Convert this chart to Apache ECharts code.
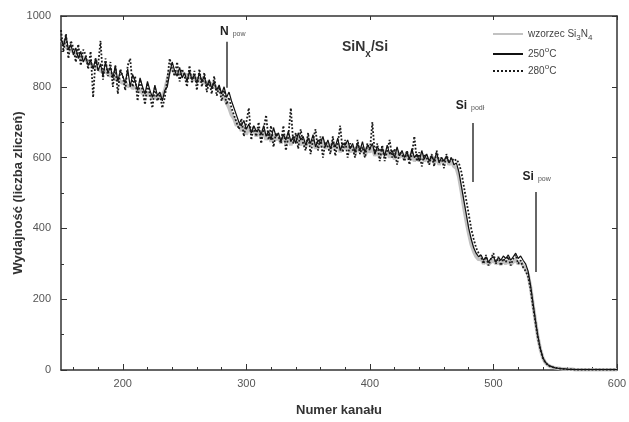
<!DOCTYPE html>
<html><head><meta charset="utf-8">
<script src="https://cdn.jsdelivr.net/npm/echarts@6/dist/echarts.min.js"></script>
<style>html,body{margin:0;padding:0;background:#fff}#c{width:629px;height:422px}</style>
</head><body><div id="c"></div>
<script>
// channels: 150..600 every 2 channels
const CH_START = 150, CH_STEP = 2;
const xTickLabels = [200, 300, 400, 500, 600];
const yTickLabels = [0, 200, 400, 600, 800, 1000];

const wzorzec = [
 925,930,910,915,900,905,890,895,880,885,
 875,870,865,860,855,850,845,840,845,835,
 830,835,820,825,815,810,815,800,805,795,
 800,790,795,780,785,775,780,770,775,765,
 770,775,790,820,845,850,840,845,835,840,
 830,835,825,830,820,825,815,820,810,815,
 805,810,800,795,790,780,770,755,740,720,
 710,690,700,675,690,665,685,670,680,660,
 675,655,680,650,670,645,665,650,660,640,
 665,640,660,635,655,645,660,635,650,630,
 655,635,650,625,645,630,650,625,640,620,
 645,625,640,615,635,625,640,615,630,610,
 635,615,630,605,625,615,630,605,620,600,
 625,605,620,600,615,595,620,600,610,595,
 615,595,610,590,605,590,610,590,600,585,
 605,585,600,580,595,585,600,580,590,575,
 570,545,505,460,420,385,355,335,320,312,
 315,300,310,298,305,310,300,305,298,308,
 300,310,298,305,312,300,305,295,285,270,
 235,185,138,92,58,34,21,14,10,8,
 6,5,4,3,3,2,2,2,1,1,
 1,1,1,1,1,1,1,1,1,1,1,1,1,1,1,1
];
const t250 = [
 935,915,945,905,920,890,910,880,900,870,
 885,860,875,850,880,845,865,830,870,840,
 855,825,860,815,845,830,810,850,800,835,
 815,790,825,800,780,815,790,770,805,775,
 785,760,790,800,840,870,845,830,855,825,
 840,815,845,820,835,810,840,815,830,800,
 820,795,815,790,805,780,800,770,785,760,
 740,720,700,690,705,680,695,670,690,675,
 680,665,690,660,675,650,685,660,670,645,
 665,650,675,645,660,640,670,650,660,635,
 655,640,665,630,650,640,660,630,650,625,
 645,630,655,620,640,635,650,625,640,615,
 640,620,645,615,635,625,640,610,630,620,
 625,605,635,610,620,600,630,605,620,600,
 615,595,625,600,610,590,620,595,610,590,
 605,590,615,585,600,590,605,585,600,580,
 585,560,520,480,440,400,370,345,330,320,
 325,310,320,305,315,320,305,318,310,322,
 315,325,310,320,330,315,322,310,300,280,
 240,190,140,95,60,35,22,15,11,8,
 6,5,4,3,3,2,2,2,1,1,
 1,1,1,1,1,1,1,1,1,1,1,1,1,1,1,1
];
const t280 = [
 960,900,950,880,930,910,870,920,860,905,
 890,850,900,770,880,860,930,820,880,830,
 870,800,860,780,850,830,790,860,880,800,
 830,760,820,790,750,810,775,740,800,760,
 780,740,770,820,880,850,830,870,815,850,
 830,800,860,810,845,790,850,800,840,785,
 815,780,830,775,800,760,790,750,770,740,
 720,700,680,710,660,700,740,650,690,660,
 700,640,680,720,650,690,630,670,660,640,
 690,620,660,740,640,670,625,680,640,620,
 670,610,650,680,620,660,600,645,630,610,
 660,605,640,690,615,650,600,640,625,600,
 650,610,630,600,640,620,700,610,640,590,
 635,590,620,650,600,625,580,615,610,590,
 620,580,610,660,590,615,575,610,600,580,
 610,575,620,590,600,570,610,585,600,590,
 595,585,560,520,480,440,400,370,345,330,
 320,300,325,295,315,330,300,320,295,315,
 305,320,295,315,325,300,310,290,280,265,
 230,180,135,90,58,34,21,14,10,8,
 6,5,4,3,3,2,2,2,1,1,
 1,1,1,1,1,1,1,1,1,1,1,1,1,1,1,1
];

// annotation markers: channel, top value, bottom value, label position
const markers = [
  {ch: 284.5, top: 927, bottom: 797, lx: 289, ly: 962, main: 'N', sub: 'pow'},
  {ch: 483.5, top: 698, bottom: 531, lx: 481, ly: 752, main: 'Si', sub: 'podł'},
  {ch: 534.5, top: 503, bottom: 277, lx: 535, ly: 552, main: 'Si', sub: 'pow'}
];

function pairs(arr){ return arr.map((v,i)=>[CH_START + i*CH_STEP, v]); }

const chart = echarts.init(document.getElementById('c'), null, {renderer:'canvas'});
const FONT = 'Liberation Sans, Arial, sans-serif';
const axisCol = '#333';
const minorX = [];
for (let v = 160; v <= 600; v += 20) minorX.push(v);

const richSub = {
  b: {fontFamily: FONT, fontSize: 12, fontWeight: 'bold', color: '#222', lineHeight: 16, verticalAlign: 'bottom'},
  s: {fontFamily: FONT, fontSize: 7, color: '#555', lineHeight: 16, verticalAlign: 'bottom', padding: [0,0,0,4]}
};

chart.setOption({
  animation: false,
  backgroundColor: '#fff',
  title: {
    text: 'SiN{s|x}/Si', left: 337, top: 30,
    textStyle: {fontFamily: FONT, fontSize: 14, fontWeight: 'bold', color: '#333',
      rich: {s: {fontFamily: FONT, fontSize: 10, fontWeight: 'bold', color: '#333', verticalAlign: 'bottom', lineHeight: 24}}}
  },
  legend: {
    orient: 'vertical', left: 487, top: 24, itemWidth: 30, itemHeight: 10, itemGap: 4,
    data: ['wzorzec Si3N4', '250C', '280C'],
    itemStyle: {opacity: 0},
    textStyle: {fontFamily: FONT, fontSize: 10, color: '#444',
      rich: {
        s: {fontFamily: FONT, fontSize: 8, color: '#444', verticalAlign: 'bottom', lineHeight: 16},
        p: {fontFamily: FONT, fontSize: 8, color: '#444', verticalAlign: 'top', lineHeight: 16}
      }},
    formatter: function(n){
      if (n === 'wzorzec Si3N4') return 'wzorzec Si{s|3}N{s|4}';
      if (n === '250C') return '250{p|o}C';
      return '280{p|o}C';
    }
  },
  grid: {left: 61, right: 12, top: 16, bottom: 52, containLabel: false, outerBoundsMode: 'none'},
  xAxis: [
    {type: 'value', min: 150, max: 600, position: 'bottom',
     name: 'Numer kanału', nameLocation: 'middle', nameGap: 34, nameMoveOverlap: false,
     nameTextStyle: {fontFamily: FONT, fontSize: 13, fontWeight: 'bold', color: '#333'},
     axisLine: {show: true, lineStyle: {color: axisCol, width: 1.5}},
     axisTick: {show: true, inside: true, length: 6, customValues: xTickLabels, lineStyle: {color: axisCol}},
     axisLabel: {customValues: xTickLabels, fontFamily: FONT, fontSize: 11, color: '#555', margin: 8},
     splitLine: {show: false}},
    {type: 'value', min: 150, max: 600, position: 'bottom',
     axisLine: {show: false},
     axisTick: {show: true, inside: true, length: 3, customValues: minorX, lineStyle: {color: axisCol}},
     axisLabel: {show: false, customValues: minorX}, splitLine: {show: false}},
    {type: 'value', min: 150, max: 600, position: 'top',
     axisLine: {show: true, lineStyle: {color: axisCol, width: 1.5}},
     axisTick: {show: true, inside: true, length: 4, customValues: xTickLabels, lineStyle: {color: axisCol}},
     axisLabel: {show: false, customValues: xTickLabels}, splitLine: {show: false}}
  ],
  yAxis: [
    {type: 'value', min: 0, max: 1000, interval: 200, position: 'left',
     name: 'Wydajność (liczba zliczeń)', nameLocation: 'middle', nameGap: 36, nameMoveOverlap: false,
     nameTextStyle: {fontFamily: FONT, fontSize: 13, fontWeight: 'bold', color: '#333'},
     axisLine: {show: true, lineStyle: {color: axisCol, width: 1.5}},
     axisTick: {show: true, inside: true, length: 6, lineStyle: {color: axisCol}},
     minorTick: {show: true, splitNumber: 2, length: 3, lineStyle: {color: axisCol}},
     axisLabel: {fontFamily: FONT, fontSize: 11, color: '#555', margin: 10,
       customValues: yTickLabels, formatter: v => String(v)},
     splitLine: {show: false}},
    {type: 'value', min: 0, max: 1000, interval: 200, position: 'right',
     axisLine: {show: true, lineStyle: {color: axisCol, width: 1.5}},
     axisTick: {show: true, inside: true, length: 5, lineStyle: {color: axisCol}},
     axisLabel: {show: false}, splitLine: {show: false}}
  ],
  series: [
    {name: 'wzorzec Si3N4', type: 'line', data: pairs(wzorzec), showSymbol: false, symbol: 'none',
     lineStyle: {color: '#c2c2c2', width: 3.5}, itemStyle: {color: '#c2c2c2'}, z: 1},
    {name: '250C', type: 'line', data: pairs(t250), showSymbol: false, symbol: 'none',
     lineStyle: {color: '#111', width: 1.2}, itemStyle: {color: '#111'}, z: 2,
     markLine: {
       silent: true, symbol: ['none','none'], animation: false,
       label: {show: false},
       lineStyle: {color: '#333', width: 1.5, type: 'solid'},
       data: markers.map(m => [{coord: [m.ch, m.top]}, {coord: [m.ch, m.bottom]}])
     },
     markPoint: {
       silent: true, symbol: 'circle', symbolSize: 1, itemStyle: {color: 'rgba(0,0,0,0)'},
       data: markers.map(m => ({coord: [m.lx, m.ly],
         label: {show: true, position: 'inside', formatter: '{b|' + m.main + '}{s|' + m.sub + '}', rich: richSub}}))
     }},
    {name: '280C', type: 'line', data: pairs(t280), showSymbol: false, symbol: 'none',
     lineStyle: {color: '#1a1a1a', width: 1.8, type: 'dotted'}, itemStyle: {color: '#1a1a1a'}, z: 3}
  ]
});
</script></body></html>
